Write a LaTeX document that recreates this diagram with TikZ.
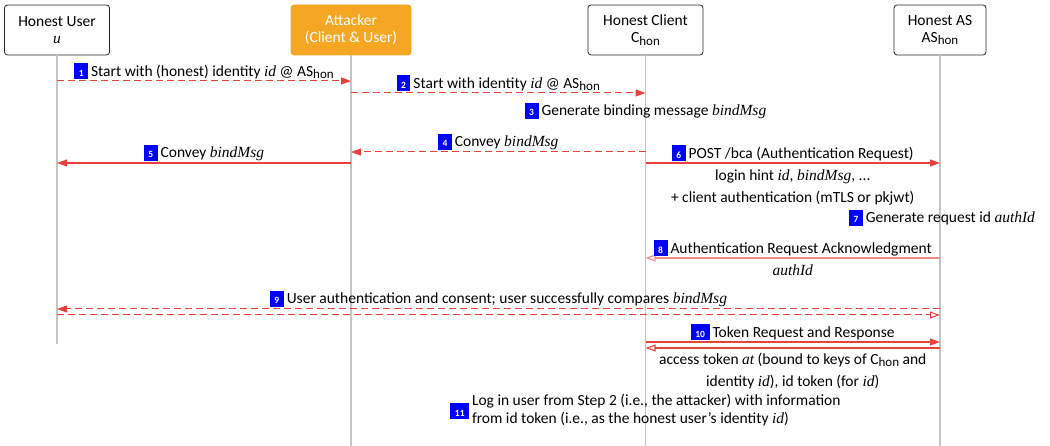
\documentclass[tikz,border=0pt]{standalone}
\usepackage{fontspec}
\setmainfont{Carlito}
\newfontfamily\varfont{Liberation Serif}
\usetikzlibrary{arrows.meta,calc}

\definecolor{msgred}{HTML}{E8413A}
\definecolor{atkorange}{HTML}{F5A623}
\definecolor{stepblue}{HTML}{0000FF}
\definecolor{lifegray}{HTML}{C4C4C4}

% italic variable names and the "hon" subscript
\newcommand\var[1]{{\varfont\itshape #1}}
\newcommand\hon{\raisebox{-0.35ex}{\fontsize{13}{13}\selectfont hon}}
% blue step badge
\newcommand\stepno[1]{{\setlength\fboxsep{0pt}\colorbox{stepblue}{\rule[-3pt]{0pt}{16pt}\hspace{4.5pt}\textcolor{white}{\fontsize{9.5}{9.5}\selectfont\bfseries #1}\hspace{4.5pt}}}\hspace{3pt}}

\tikzset{
  actor/.style={draw=black!85, line width=0.8pt, rounded corners=3pt, fill=white,
    minimum height=50pt, inner xsep=11pt, align=center,
    font=\fontsize{15.5}{17}\selectfont},
  atkactor/.style={actor, draw=atkorange, fill=atkorange, text=white},
  life/.style={draw=lifegray, line width=1.3pt},
  msg/.style={draw=msgred, line width=1.1pt, -{Triangle[length=10pt,width=7pt]}},
  dmsg/.style={msg, line width=1pt, dash pattern=on 7pt off 4pt},
  retmsg/.style={draw=msgred, line width=1.1pt, -{Triangle[open,length=10pt,width=7pt]}},
  ackmsg/.style={retmsg, draw=msgred!60},
  dretmsg/.style={retmsg, line width=1pt, dash pattern=on 7pt off 4pt},
  lbl/.style={inner sep=1.5pt, align=center, font=\fontsize{15.5}{22}\selectfont},
  sublbl/.style={lbl, below, yshift=-5pt},
  note/.style={inner sep=1pt, align=left, font=\fontsize{15.5}{18}\selectfont},
}

\begin{document}
\begin{tikzpicture}[x=1pt,y=-1pt]
\useasboundingbox (0,0) rectangle (1050,446);

% participants
\node[actor, minimum width=105pt] (user) at (57,30)
  {Honest User\\\var{u}};
\node[atkactor, minimum width=120pt] (att) at (351,30) {Attacker\\(Client \& User)};
\node[actor, minimum width=115pt] (cli) at (645.5,30) {Honest Client\\C\hon};
\node[actor, minimum width=92pt] (as) at (940,30) {Honest AS\\AS\hon};

% lifeline ends
\coordinate (uend) at (0,344);
\coordinate (bot)  at (0,446);
\draw[life] (user.south) -- (user |- uend);
\draw[life] (att.south)  -- (att |- bot);
\draw[life] (cli.south)  -- (cli |- bot);
\draw[life] (as.south)   -- (as |- bot);

% message levels
\coordinate (y1) at (0,81);
\coordinate (y2) at (0,93);
\coordinate (y3) at (0,111);
\coordinate (y4) at (0,152);
\coordinate (y5) at (0,163);
\coordinate (y7) at (0,218);
\coordinate (y8) at (0,258);
\coordinate (y9a) at (0,309);
\coordinate (y9b) at (0,315);
\coordinate (y10a) at (0,342);
\coordinate (y10b) at (0,348);
\coordinate (y11) at (0,411);

% 1
\draw[dmsg] (user |- y1) -- (att |- y1);
\node[lbl,above] (l1) at ($(user |- y1)!0.5!(att |- y1)$)
  {\stepno{1}Start with (honest) identity \var{id} @ AS\hon};
% 2
\draw[dmsg] (att |- y2) -- (cli |- y2);
\node[lbl,above] (l2) at ($(att |- y2)!0.5!(cli |- y2)$)
  {\stepno{2}Start with identity \var{id} @ AS\hon};
% 3
\node[lbl] (l3) at (cli |- y3) {\stepno{3}Generate binding message \var{bindMsg}};
% 4
\draw[dmsg] (cli |- y4) -- (att |- y4);
\node[lbl,above] (l4) at ($(cli |- y4)!0.5!(att |- y4)$) {\stepno{4}Convey \var{bindMsg}};
% 5
\draw[msg] (att |- y5) -- (user |- y5);
\node[lbl,above] (l5) at ($(att |- y5)!0.5!(user |- y5)$) {\stepno{5}Convey \var{bindMsg}};
% 6
\draw[msg] (cli |- y5) -- (as |- y5);
\node[lbl,above] (l6) at ($(cli |- y5)!0.5!(as |- y5)$)
  {\stepno{6}POST /bca (Authentication Request)};
\node[sublbl] (l6b) at ($(cli |- y5)!0.5!(as |- y5)$)
  {login hint \var{id}, \var{bindMsg}, ...\\+ client authentication (mTLS or pkjwt)};
% 7
\node[lbl] (l7) at ($(as |- y7)+(2,0)$) {\stepno{7}Generate request id \var{authId}};
% 8
\draw[ackmsg] (as |- y8) -- (cli |- y8);
\node[lbl,above] (l8) at ($(as |- y8)!0.5!(cli |- y8)$)
  {\stepno{8}Authentication Request Acknowledgment};
\node[sublbl] (l8b) at ($(as |- y8)!0.5!(cli |- y8)$) {\var{authId}};
% 9
\draw[dmsg] (as |- y9a) -- (user |- y9a);
\draw[dretmsg] (user |- y9b) -- (as |- y9b);
\node[lbl,above] (l9) at ($(user |- y9a)!0.5!(as |- y9a)$)
  {\stepno{9}User authentication and consent; user successfully compares \var{bindMsg}};
% 10
\draw[msg] (cli |- y10a) -- (as |- y10a);
\draw[retmsg] (as |- y10b) -- (cli |- y10b);
\node[lbl,above] (l10) at ($(cli |- y10a)!0.5!(as |- y10a)$)
  {\stepno{10}Token Request and Response};
\node[sublbl, yshift=2pt] (l10b) at ($(cli |- y10b)!0.5!(as |- y10b)$)
  {access token \var{at} (bound to keys of C\hon{} and\\identity \var{id}), id token (for \var{id})};
% 11
\node[note] (l11) at (cli |- y11)
  {$\vcenter{\hbox{\stepno{11}}}$\begin{tabular}{@{}l@{}}Log in user from Step 2 (i.e., the attacker) with information\\from id token (i.e., as the honest user's identity \var{id})\end{tabular}};
\end{tikzpicture}
\end{document}
